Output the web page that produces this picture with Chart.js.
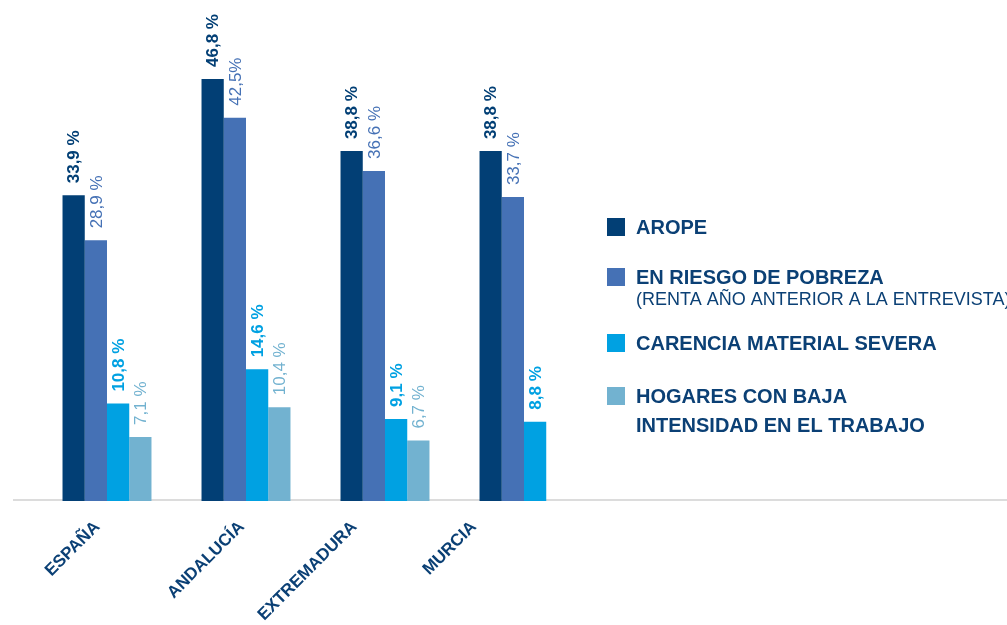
<!DOCTYPE html>
<html lang="es">
<head>
    <meta charset="UTF-8">
    <title>AROPE por comunidad</title>
    <style>
        body { margin: 0; background: #fff; }
        #wrap { position: relative; width: 1007px; height: 625px; }
    </style>
    <script src="https://cdn.jsdelivr.net/npm/chart.js@4.4.0/dist/chart.umd.min.js"></script>
</head>
<body>
    <div id="wrap"><canvas id="arope-chart"></canvas></div>
    <script>
        // datos
        const regiones = ['ESPAÑA', 'ANDALUCÍA', 'EXTREMADURA', 'MURCIA'];
        const arope = [33.9, 46.8, 38.8, 38.8];
        const riesgoPobreza = [28.9, 42.5, 36.6, 33.7];
        const carencia = [10.8, 14.6, 9.1, 8.8];
        const bajaIntensidad = [7.1, 10.4, 6.7, null];

        const aropeTxt = ['33,9 %', '46,8 %', '38,8 %', '38,8 %'];
        const riesgoTxt = ['28,9 %', '42,5%', '36,6 %', '33,7 %'];
        const carenciaTxt = ['10,8 %', '14,6 %', '9,1 %', '8,8 %'];
        const bajaTxt = ['7,1 %', '10,4 %', '6,7 %', null];

        const serieNombres = ['AROPE', 'EN RIESGO DE POBREZA', 'CARENCIA MATERIAL SEVERA', 'HOGARES CON BAJA'];
        const serieNotas = [null, '(RENTA AÑO ANTERIOR A LA ENTREVISTA)', null, 'INTENSIDAD EN EL TRABAJO'];

        // donde caen los rotulos de region (en unidades de categoria, no quedan centrados en el original)
        const rotuloPos = [-0.07, 0.97, 1.78, 2.64];

        const colores = ['#023f75', '#4571b5', '#00a1e2', '#72b2d0'];
        const pesos = ['bold', 'normal', 'bold', 'normal'];
        const textoAzul = '#0b4075';
        const FONT = '"Liberation Sans", Arial, sans-serif';

        // etiquetas giradas encima de cada barra
        const barLabels = {
            id: 'barLabels',
            afterDatasetsDraw(chart) {
                const ctx = chart.ctx;
                chart.data.datasets.forEach((ds, i) => {
                    const meta = chart.getDatasetMeta(i);
                    meta.data.forEach((bar, j) => {
                        const txt = ds.textos[j];
                        if (!txt) return;
                        ctx.save();
                        ctx.translate(bar.x, bar.y - 12);
                        ctx.rotate(-Math.PI / 2);
                        ctx.font = pesos[i] + ' 17px ' + FONT;
                        ctx.fillStyle = colores[i];
                        ctx.textAlign = 'left';
                        ctx.textBaseline = 'middle';
                        ctx.fillText(txt, 0, 1);
                        ctx.restore();
                    });
                });
            }
        };

        // linea base gris a todo lo ancho
        const baseLine = {
            id: 'baseLine',
            beforeDatasetsDraw(chart) {
                const ctx = chart.ctx;
                const y = chart.chartArea.bottom - 1;
                ctx.save();
                ctx.strokeStyle = '#dcdcdc';
                ctx.lineWidth = 2;
                ctx.beginPath();
                ctx.moveTo(13, y);
                ctx.lineTo(chart.width, y);
                ctx.stroke();
                ctx.restore();
            }
        };

        // leyenda a la derecha
        const legendRows = [227, 277, 343, 396];
        const noteOffsets = [0, 22, 0, 29];
        const sideLegend = {
            id: 'sideLegend',
            afterDraw(chart) {
                const ctx = chart.ctx;
                ctx.save();
                ctx.textBaseline = 'middle';
                ctx.textAlign = 'left';
                serieNombres.forEach((name, i) => {
                    const y = legendRows[i];
                    ctx.fillStyle = colores[i];
                    ctx.fillRect(607, y - 9, 18, 18);
                    ctx.fillStyle = textoAzul;
                    ctx.font = 'bold 20px ' + FONT;
                    ctx.fillText(name, 636, y + 1);
                    if (serieNotas[i]) {
                        if (i === 1) {
                            ctx.font = '18px ' + FONT;
                        }
                        ctx.fillText(serieNotas[i], 636, y + noteOffsets[i] + 1);
                    }
                });
                ctx.restore();
            }
        };

        const series = [arope, riesgoPobreza, carencia, bajaIntensidad];
        const textos = [aropeTxt, riesgoTxt, carenciaTxt, bajaTxt];

        new Chart(document.getElementById('arope-chart'), {
            type: 'bar',
            data: {
                labels: regiones,
                datasets: series.map((d, i) => ({
                    label: serieNombres[i],
                    data: d,
                    textos: textos[i],
                    backgroundColor: colores[i],
                    borderWidth: 0,
                    categoryPercentage: 0.64,
                    barPercentage: 1
                }))
            },
            options: {
                responsive: true,
                maintainAspectRatio: false,
                animation: false,
                layout: { padding: { left: 37.5, right: 413.5, top: 5, bottom: 0 } },
                plugins: {
                    legend: { display: false },
                    tooltip: { enabled: false }
                },
                scales: {
                    x: {
                        display: false
                    },
                    // eje solo para los rotulos, alineado con las categorias
                    rotulos: {
                        type: 'linear',
                        position: 'bottom',
                        offset: false,
                        min: -0.5,
                        max: 3.5,
                        grid: { display: false, offset: false },
                        border: { display: false },
                        afterBuildTicks(scale) {
                            scale.ticks = rotuloPos.map(v => ({ value: v }));
                        },
                        ticks: {
                            autoSkip: false,
                            minRotation: 45,
                            maxRotation: 45,
                            padding: 8,
                            color: textoAzul,
                            font: { family: FONT, size: 17, weight: 'bold' },
                            callback: (v, i) => regiones[i]
                        },
                        afterFit(scale) {
                            scale.height = 124;
                            scale.paddingLeft = 0;
                            scale.paddingRight = 0;
                        }
                    },
                    y: {
                        display: false,
                        min: 0,
                        max: 55
                    }
                }
            },
            plugins: [baseLine, barLabels, sideLegend]
        });
    </script>
</body>
</html>
